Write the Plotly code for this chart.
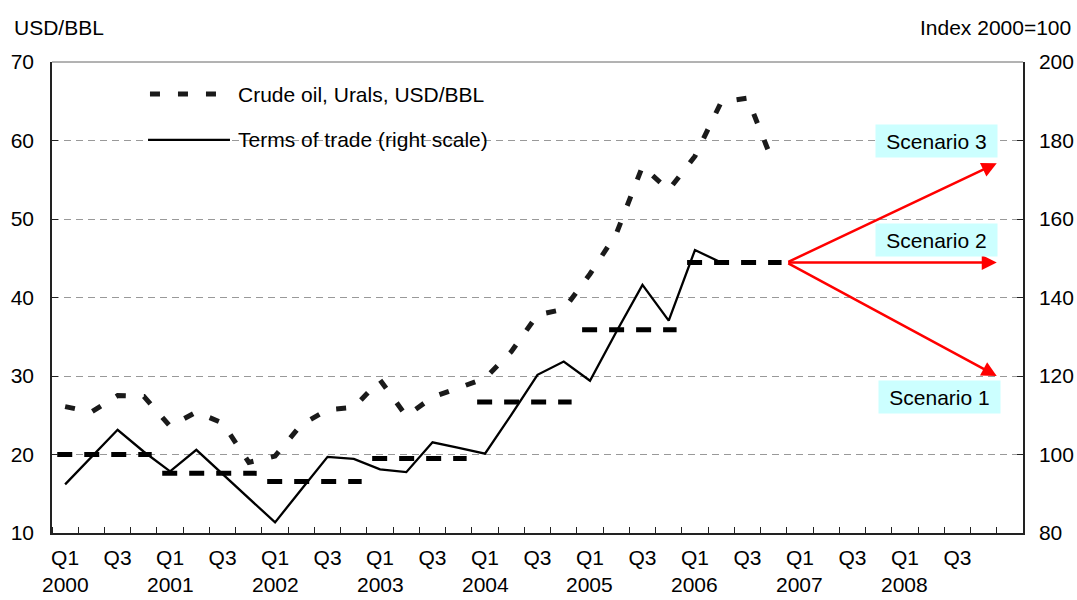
import plotly.graph_objects as go

# ---------------- data ----------------
quarters = [f"Q{q} {y}" for y in range(2000, 2010) for q in (1, 2, 3, 4)][:37]
tick_labels = ["Q1", "Q3"] * 9
year_labels = ["2000", "2001", "2002", "2003", "2004", "2005", "2006", "2007", "2008"]

oil_urals = [26.1, 25.4, 27.5, 27.4,
             23.6, 25.4, 24.0, 19.0,
             19.8, 23.8, 25.7, 26.0,
             29.5, 24.9, 27.3, 28.5,
             29.7, 33.1, 37.8, 38.5,
             43.0, 48.1, 56.7, 53.7,
             58.0, 64.9, 65.4, 57.0]

terms_of_trade = [92.4, 99.3, 106.3, 100.7,
                  95.7, 101.2, 95.1, 89.0,
                  82.7, 91.1, 99.4, 98.9,
                  96.2, 95.5, 103.1, 101.7,
                  100.2, 110.1, 120.3, 123.7,
                  118.8, 131.2, 143.2, 134.1,
                  152.1, 148.9]

tot_annual_years = [2000, 2001, 2002, 2003, 2004, 2005, 2006]
tot_annual_avg = [100.0, 95.2, 93.1, 99.0, 113.4, 131.8, 148.9]

scenario_names = ["Scenario 1", "Scenario 2", "Scenario 3"]
scenario_start = 148.9
scenario_end = [120.0, 148.9, 174.2]
scenario_label_y = [114.7, 154.6, 180.0]
scenario_label_x = [33.32, 33.19, 33.19]

FONT = "Liberation Sans, Arial, sans-serif"
FS = 21
BLACK = "#000000"

fig = go.Figure()

# oil price (left axis)
fig.add_trace(go.Scatter(
    x=list(range(len(oil_urals))), y=oil_urals, mode="lines",
    line=dict(color="#1a1a1a", width=5, dash="10px,18px"),
    showlegend=False, yaxis="y"))

# terms of trade quarterly (right axis)
fig.add_trace(go.Scatter(
    x=list(range(len(terms_of_trade))), y=terms_of_trade, mode="lines",
    line=dict(color=BLACK, width=2.3),
    showlegend=False, yaxis="y2"))

# terms of trade annual averages (right axis)
for yr, avg in zip(tot_annual_years, tot_annual_avg):
    k = (yr - 2000) * 4
    fig.add_trace(go.Scatter(
        x=[k - 0.3, k + 3.3], y=[avg, avg], mode="lines",
        line=dict(color=BLACK, width=5, dash="15px,12px"),
        showlegend=False, yaxis="y2"))

annotations = []
# scenario arrows
tail_x = (tot_annual_years[-1] - 2000) * 4 + 3.5
for name, end in zip(scenario_names, scenario_end):
    annotations.append(dict(
        x=35.5, y=end, xref="x", yref="y2",
        ax=tail_x, ay=scenario_start, axref="x", ayref="y2",
        text="", showarrow=True, arrowhead=2, arrowsize=1.2,
        arrowwidth=2.5, arrowcolor="#FF0000", standoff=0))
# scenario labels
for name, lx, ly in zip(scenario_names, scenario_label_x, scenario_label_y):
    annotations.append(dict(
        x=lx, y=ly, xref="x", yref="y2", text=name, showarrow=False,
        bgcolor="#CCFFFF", width=113, height=24, borderpad=4,
        font=dict(family=FONT, size=FS, color=BLACK),
        xanchor="center", yanchor="middle"))
# year labels
for i, yl in enumerate(year_labels):
    annotations.append(dict(
        x=i * 4, y=-0.109, xref="x", yref="paper", text=yl, showarrow=False,
        font=dict(family=FONT, size=FS, color=BLACK),
        xanchor="center", yanchor="middle"))
# axis unit titles
annotations.append(dict(x=-0.0412, y=1.0742, xref="paper", yref="paper",
                        text="USD/BBL", showarrow=False, xanchor="left", yanchor="middle",
                        font=dict(family=FONT, size=FS, color=BLACK)))
annotations.append(dict(x=1.0515, y=1.0742, xref="paper", yref="paper",
                        text="Index 2000=100", showarrow=False, xanchor="right", yanchor="middle",
                        font=dict(family=FONT, size=FS, color=BLACK)))
# legend texts
annotations.append(dict(x=0.1895, y=0.932, xref="paper", yref="paper",
                        text="Crude oil, Urals, USD/BBL", showarrow=False,
                        xanchor="left", yanchor="middle",
                        font=dict(family=FONT, size=FS, color=BLACK)))
annotations.append(dict(x=0.1895, y=0.8346, xref="paper", yref="paper",
                        text="Terms of trade (right scale)", showarrow=False,
                        xanchor="left", yanchor="middle",
                        font=dict(family=FONT, size=FS, color=BLACK)))

shapes = [
    # white legend background hiding grid
    dict(type="rect", xref="paper", yref="paper", x0=0.002, x1=0.5546, y0=0.76, y1=0.998,
         fillcolor="white", line=dict(width=0), layer="between"),
    # legend samples
    dict(type="line", xref="paper", yref="paper", x0=0.1009, x1=0.1761, y0=0.932, y1=0.932,
         line=dict(color="#1a1a1a", width=5, dash="10px,18px")),
    dict(type="line", xref="paper", yref="paper", x0=0.0989, x1=0.1833, y0=0.8346, y1=0.8346,
         line=dict(color=BLACK, width=2.3)),
    # top border
    dict(type="line", xref="paper", yref="paper", x0=0, x1=1, y0=1, y1=1,
         line=dict(color="#666666", width=1)),
]

fig.update_layout(
    width=1077, height=600,
    margin=dict(l=52, r=54, t=62, b=66.5, autoexpand=False),
    paper_bgcolor="white", plot_bgcolor="white",
    font=dict(family=FONT, size=FS, color=BLACK),
    showlegend=False,
    annotations=annotations,
    shapes=shapes,
    xaxis=dict(
        range=[-0.5, 36.5], showgrid=False, zeroline=False, automargin=False,
        tickmode="array", tickvals=list(range(0, 36, 2)), ticktext=tick_labels,
        ticks="", showline=True, linecolor="#222222", linewidth=1.5,
        tickfont=dict(family=FONT, size=FS, color=BLACK),
        ticklabelstandoff=5,
        minor=dict(tickmode="linear", tick0=-0.5, dtick=1, ticks="inside",
                   ticklen=6, tickcolor="#222222", tickwidth=1, showgrid=False),
    ),
    yaxis=dict(
        range=[10, 70], dtick=10, tick0=10, showgrid=True, automargin=False,
        gridcolor="#999999", gridwidth=1, griddash="7px,5px",
        zeroline=False, showline=True, linecolor="#222222", linewidth=1.5,
        ticks="inside", ticklen=6, tickcolor="#222222",
        tickfont=dict(family=FONT, size=FS, color=BLACK),
        ticklabelstandoff=12,
    ),
    yaxis2=dict(
        range=[80, 200], dtick=20, tick0=80, overlaying="y", side="right", automargin=False,
        showgrid=False, zeroline=False, showline=True, linecolor="#222222", linewidth=1.5,
        ticks="inside", ticklen=6, tickcolor="#222222",
        tickfont=dict(family=FONT, size=FS, color=BLACK),
        ticklabelstandoff=10,
    ),
)

# remove the page's default body margin so the 1077x600 figure fills the window exactly
fig.write_html("out.html",
               config={"displayModeBar": False},
               post_script="document.body.style.margin='0';"
                           "document.documentElement.style.overflow='hidden';"
                           "document.body.style.overflow='hidden';")
